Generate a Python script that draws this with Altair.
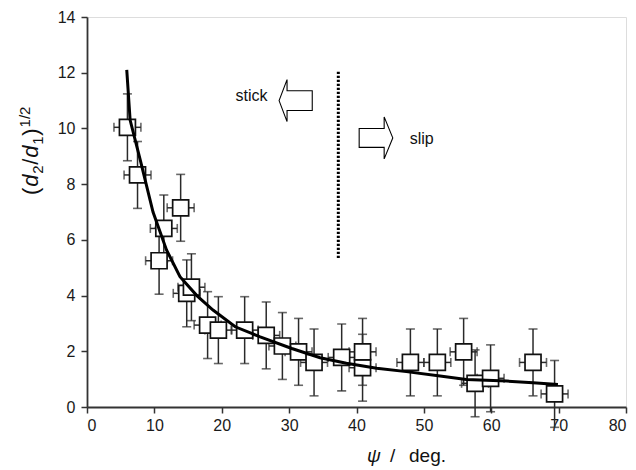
import altair as alt
import pandas as pd

# ---- data ----
X_VALS = [6.0, 7.5, 13.9, 11.4, 10.7, 14.8, 15.5, 17.9, 19.5, 23.4, 26.6, 29.0,
          31.4, 33.7, 37.8, 40.9, 40.9, 48.0, 52.0, 55.9, 57.6, 59.9, 66.2, 69.4]
Y_VALS = [10.04, 8.33, 7.15, 6.41, 5.25, 4.08, 4.30, 2.94, 2.76, 2.76, 2.57, 2.19,
          1.98, 1.60, 1.78, 1.41, 1.98, 1.60, 1.60, 1.98, 0.85, 1.03, 1.60, 0.47]
X_ERR = 2.0
Y_ERR = 1.2

CURVE_X = [5.9, 6.4, 7.9, 9.8, 11.8, 13.8, 16.3, 18.7, 22.0, 25.7, 30.4, 34.6,
           38.5, 43.0, 47.4, 52.4, 56.3, 62.3, 66.2, 69.9]
CURVE_Y = [12.1, 10.3, 8.87, 7.0, 5.64, 4.68, 4.0, 3.48, 2.88, 2.52, 2.1, 1.77,
           1.57, 1.39, 1.27, 1.11, 0.99, 0.93, 0.87, 0.81]

BOUNDARY_X = [37.3]
BOUNDARY_Y = [5.35]
BOUNDARY_Y2 = [12.05]

ARROW_X = [30.97, 42.89]
ARROW_Y = [11.0, 9.66]
ARROW_DIR = ["left", "right"]

LABEL_TEXT = ["stick", "slip"]
LABEL_X = [26.8, 47.9]
LABEL_Y = [11.16, 9.62]
LABEL_ALIGN = ["right", "left"]

X_TICKS = [0, 10, 20, 30, 40, 50, 60, 70, 80]
Y_TICKS = [0, 2, 4, 6, 8, 10, 12, 14]

FONT = "Liberation Sans"
W, H = 539, 390

pts = pd.DataFrame({"x": X_VALS, "y": Y_VALS})
pts["xlo"] = pts["x"] - X_ERR
pts["xhi"] = pts["x"] + X_ERR
pts["ylo"] = pts["y"] - Y_ERR
pts["yhi"] = pts["y"] + Y_ERR
pts["i"] = range(len(pts))

curve = pd.DataFrame({"x": CURVE_X, "y": CURVE_Y, "o": range(len(CURVE_X))})

xs = alt.Scale(domain=[0, 80], nice=False, zero=False)
ys = alt.Scale(domain=[0, 14], nice=False, zero=False)

xaxis = alt.Axis(values=X_TICKS, title=None, grid=False, labelFont=FONT,
                 labelFontSize=16, labelColor="#1a1a1a", labelPadding=4,
                 tickSize=6, tickColor="#333", tickWidth=1.5,
                 domainColor="#333", domainWidth=1.8)
yaxis = alt.Axis(values=Y_TICKS, title=None, grid=False, labelFont=FONT,
                 labelFontSize=16, labelColor="#1a1a1a", labelPadding=6,
                 tickSize=6, tickColor="#333", tickWidth=1.5,
                 domainColor="#333", domainWidth=1.8)

base = alt.Chart(pts)
ECOL = "#2a2a2a"

yerr = base.mark_rule(color=ECOL, strokeWidth=1.5).encode(
    x=alt.X("x:Q", scale=xs, axis=xaxis), y=alt.Y("ylo:Q", scale=ys, axis=yaxis), y2="yhi:Q")
xerr = base.mark_rule(color=ECOL, strokeWidth=1.5).encode(
    x=alt.X("xlo:Q", scale=xs), x2="xhi:Q", y=alt.Y("y:Q", scale=ys))
ycap1 = base.mark_tick(orient="horizontal", size=9, thickness=1.6, color=ECOL).encode(
    x=alt.X("x:Q", scale=xs), y=alt.Y("ylo:Q", scale=ys))
ycap2 = base.mark_tick(orient="horizontal", size=9, thickness=1.6, color=ECOL).encode(
    x=alt.X("x:Q", scale=xs), y=alt.Y("yhi:Q", scale=ys))
xcap1 = base.mark_tick(orient="vertical", size=9, thickness=1.6, color=ECOL).encode(
    x=alt.X("xlo:Q", scale=xs), y=alt.Y("y:Q", scale=ys))
xcap2 = base.mark_tick(orient="vertical", size=9, thickness=1.6, color=ECOL).encode(
    x=alt.X("xhi:Q", scale=xs), y=alt.Y("y:Q", scale=ys))

squares = base.mark_square(size=256, filled=True, fill="white", stroke="#111",
                           strokeWidth=1.7, opacity=1).encode(
    x=alt.X("x:Q", scale=xs), y=alt.Y("y:Q", scale=ys), order="i:Q")

line = alt.Chart(curve).mark_line(color="black", strokeWidth=3).encode(
    x=alt.X("x:Q", scale=xs), y=alt.Y("y:Q", scale=ys), order="o:Q")

bnd = alt.Chart(pd.DataFrame({"x": BOUNDARY_X, "y": BOUNDARY_Y, "y2": BOUNDARY_Y2})).mark_rule(
    color="black", strokeWidth=3, strokeDash=[2.2, 1.8]).encode(
    x=alt.X("x:Q", scale=xs), y=alt.Y("y:Q", scale=ys), y2="y2:Q")

LEFT_ARROW = "M -0.79 0 L -0.41 -1 L -0.41 -0.47 L 0.79 -0.47 L 0.79 0.47 L -0.41 0.47 L -0.41 1 Z"
RIGHT_ARROW = "M 0.80 0 L 0.39 -1 L 0.39 -0.45 L -0.80 -0.45 L -0.80 0.45 L 0.39 0.45 L 0.39 1 Z"

arrows = []
for ax_, ay_, d in zip(ARROW_X, ARROW_Y, ARROW_DIR):
    arrows.append(
        alt.Chart(pd.DataFrame({"x": [ax_], "y": [ay_]})).mark_point(
            shape=LEFT_ARROW if d == "left" else RIGHT_ARROW, size=1764,
            filled=False, stroke="black", strokeWidth=1.1, opacity=1).encode(
            x=alt.X("x:Q", scale=xs), y=alt.Y("y:Q", scale=ys)))

labels = []
for t, lx, ly, al in zip(LABEL_TEXT, LABEL_X, LABEL_Y, LABEL_ALIGN):
    labels.append(
        alt.Chart(pd.DataFrame({"x": [lx], "y": [ly], "t": [t]})).mark_text(
            align=al, baseline="middle", font=FONT, fontSize=16, color="#111").encode(
            x=alt.X("x:Q", scale=xs), y=alt.Y("y:Q", scale=ys), text="t:N"))

# x axis title: italic psi + "/ deg."
XT_PARTS = [("ψ", "italic", 19), ("/", "normal", 19), ("deg.", "normal", 19)]
XT_POS = [280, 303, 322]
xtitle = []
for (t, st, fs), px in zip(XT_PARTS, XT_POS):
    xtitle.append(alt.Chart(pd.DataFrame({"t": [t]})).mark_text(
        align="left", baseline="alphabetic", font=FONT, fontSize=fs, fontStyle=st,
        color="#111").encode(x=alt.value(px), y=alt.value(H + 55), text="t:N"))

# y axis title: (d2/d1)^1/2, rotated
YT_PARTS = [("(", "normal", 22, 0, 8.3), ("d", "italic", 22, 0, 13.0),
            ("2", "normal", 15, 5, 9.0), ("/", "normal", 22, 0, 7.0),
            ("d", "italic", 22, 0, 13.0), ("1", "normal", 15, 5, 9.0),
            (")", "normal", 22, 0, 8.3), ("1/2", "normal", 15, -8, 21.0)]
ytitle = []
ystart = 195 - 17
bx = 38 - 87
cur = ystart
for t, st, fs, shift, w in YT_PARTS:
    ytitle.append(alt.Chart(pd.DataFrame({"t": [t]})).mark_text(
        align="left", baseline="alphabetic", angle=270, font=FONT, fontSize=fs,
        fontStyle=st, color="#111").encode(
        x=alt.value(bx + shift), y=alt.value(cur), text="t:N"))
    cur -= w

chart = alt.layer(yerr, xerr, ycap1, ycap2, xcap1, xcap2, squares, line, bnd,
                  *arrows, *labels, *xtitle, *ytitle).properties(
    width=W, height=H, autosize="none",
    padding={"left": 87, "top": 17, "right": 10, "bottom": 63}
).configure_view(stroke="#333", strokeWidth=1.8).configure(background="white")

chart.save("out.html", embed_options={"renderer": "svg", "actions": False})
